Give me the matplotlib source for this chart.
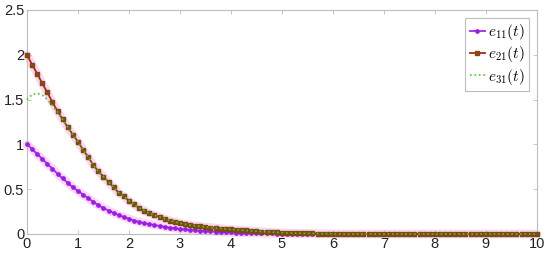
import numpy as np
import matplotlib
matplotlib.use("Agg")
import matplotlib.pyplot as plt

plt.rcParams['mathtext.fontset'] = 'cm'
plt.rcParams['font.family'] = ['Liberation Sans', 'DejaVu Sans']

# time grid (markers every 0.1)
t = np.round(np.arange(0, 10.01, 0.1), 1)

# values, t = 0.0 .. 6.0, then flat zero
e11_head = [1.00, 0.95, 0.89, 0.84, 0.78, 0.73, 0.67, 0.62, 0.57, 0.52,
            0.48, 0.44, 0.40, 0.36, 0.32, 0.29, 0.26, 0.235, 0.21, 0.19,
            0.17, 0.15, 0.135, 0.12, 0.11, 0.10, 0.09, 0.08, 0.07, 0.063,
            0.056, 0.05, 0.045, 0.04, 0.035, 0.031, 0.028, 0.025, 0.022, 0.019,
            0.017, 0.015, 0.013, 0.011, 0.010, 0.009, 0.008, 0.007, 0.006, 0.005,
            0.004, 0.004, 0.003, 0.003, 0.002, 0.002, 0.001, 0.001, 0.001, 0.0,
            0.0]
e21_head = [2.00, 1.89, 1.79, 1.68, 1.58, 1.47, 1.37, 1.28, 1.19, 1.11,
            1.03, 0.94, 0.86, 0.77, 0.70, 0.64, 0.58, 0.52, 0.46, 0.42,
            0.37, 0.33, 0.29, 0.26, 0.23, 0.21, 0.19, 0.17, 0.15, 0.135,
            0.12, 0.11, 0.10, 0.092, 0.085, 0.078, 0.072, 0.066, 0.061, 0.056,
            0.051, 0.047, 0.043, 0.039, 0.035, 0.031, 0.027, 0.024, 0.021, 0.018,
            0.015, 0.013, 0.011, 0.009, 0.008, 0.007, 0.006, 0.005, 0.004, 0.003,
            0.002]
e31_head = [1.50, 1.555, 1.57, 1.55, 1.50, 1.43, 1.36, 1.28, 1.19, 1.11,
            1.03, 0.94, 0.86, 0.77, 0.70, 0.64, 0.58, 0.52, 0.46, 0.42,
            0.37, 0.33, 0.29, 0.26, 0.23, 0.21, 0.19, 0.17, 0.15, 0.135,
            0.12, 0.11, 0.10, 0.092, 0.085, 0.078, 0.072, 0.066, 0.061, 0.056,
            0.051, 0.047, 0.043, 0.039, 0.035, 0.031, 0.027, 0.024, 0.021, 0.018,
            0.015, 0.013, 0.011, 0.009, 0.008, 0.007, 0.006, 0.005, 0.004, 0.003,
            0.002]
tail = [0.0] * 40

e11 = np.array(e11_head + tail)
e21 = np.array(e21_head + tail)
e31 = np.array(e31_head + tail)

labels = [r'$e_{11}(t)$', r'$e_{21}(t)$', r'$e_{31}(t)$']

fig = plt.figure(figsize=(5.5, 2.62), dpi=100)
ax = fig.add_axes([0.049, 0.107, 0.927, 0.855])

# faint pink halo seen round the curves
halo = '#fcd6f4'
for y in (e11, e21):
    ax.plot(t, y, color=halo, lw=6, solid_capstyle='round', zorder=1,
            clip_on=False)

ax.plot(t, e11, color='#a626f2', lw=1.3, marker='o', ms=2.4,
        mec='#9a1fe6', mfc='#9a1fe6', label=labels[0], zorder=3, clip_on=False)
ax.plot(t, e21, color='#b5260f', lw=1.3, marker='s', ms=2.4,
        mec='#7a4a10', mfc='#8a4a14', label=labels[1], zorder=3, clip_on=False)
ax.plot(t, e31, color='#3fcf1a', lw=1.2, ls=':', label=labels[2], zorder=4,
        clip_on=False)

ax.set_xlim(0, 10)
ax.set_ylim(0, 2.5)
ax.set_xticks(np.arange(0, 11, 1))
ax.set_yticks([0, 0.5, 1, 1.5, 2, 2.5])
ax.set_yticklabels(['0', '0.5', '1', '1.5', '2', '2.5'])

for s in ax.spines.values():
    s.set_color('#bdbdbd')
    s.set_linewidth(0.8)
ax.tick_params(direction='in', length=3, width=0.6, color='#bdbdbd',
               labelsize=10.5, labelcolor='#222222', top=True, right=True, pad=2)

leg = ax.legend(loc='upper right', fontsize=11, handlelength=1.0,
                handletextpad=0.2, borderpad=0.3, labelspacing=0.15,
                fancybox=False, framealpha=1, borderaxespad=0.5)
leg.get_frame().set_edgecolor('#bdbdbd')
leg.get_frame().set_linewidth(0.8)

fig.savefig('out.png', dpi=100)
